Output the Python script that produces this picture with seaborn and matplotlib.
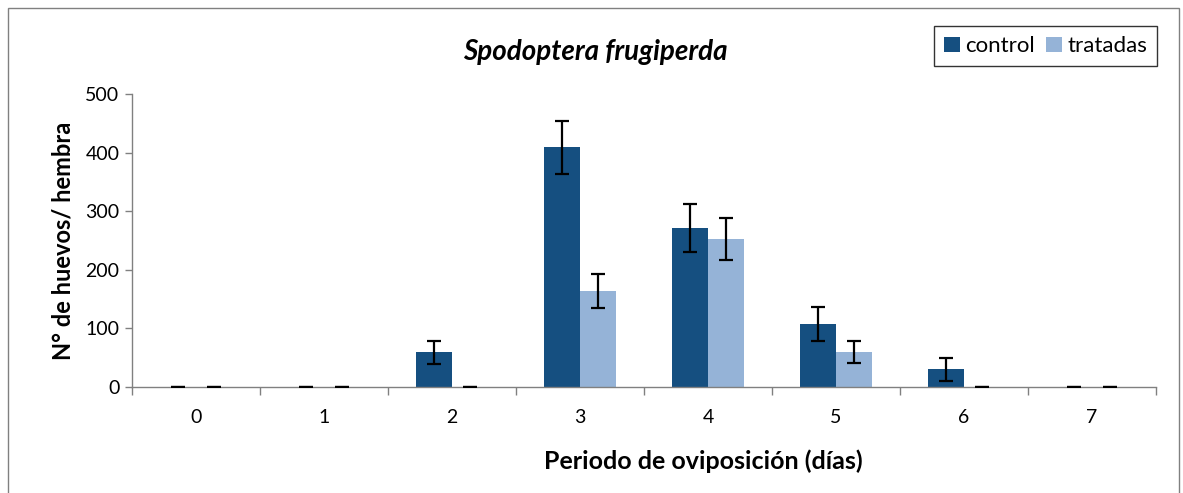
"""Spodoptera frugiperda - eggs per female by oviposition day."""
import numpy as np
import pandas as pd
import matplotlib
matplotlib.use("Agg")
import matplotlib.pyplot as plt
from matplotlib.patches import Rectangle
from matplotlib.ticker import FixedLocator, NullFormatter
import seaborn as sns

# data
days = ["0", "1", "2", "3", "4", "5", "6", "7"]
control = [0, 0, 59, 409, 271, 107, 30, 0]
control_err = [0, 0, 20, 46, 41, 29, 20, 0]
tratadas = [0, 0, 0, 164, 252, 60, 0, 0]
tratadas_err = [0, 0, 0, 29, 36, 19, 0, 0]
groups = ["control", "tratadas"]
colors = ["#154F80", "#95B3D7"]

sns.set_theme(style="white", rc={"text.color": "black",
                                 "axes.labelcolor": "black",
                                 "xtick.color": "black",
                                 "ytick.color": "black"})
plt.rcParams["font.family"] = ["Lato", "DejaVu Sans"]

df = pd.DataFrame({
    "day": days * 2,
    "value": control + tratadas,
    "err": control_err + tratadas_err,
    "group": [groups[0]] * len(days) + [groups[1]] * len(days),
})

fig = plt.figure(figsize=(11.83, 4.93), dpi=100)
ax = fig.add_axes([0.1116, 0.215, 0.8655, 0.594])

sns.barplot(data=df, x="day", y="value", hue="group", hue_order=groups,
            palette=colors, width=0.56, errorbar=None, saturation=1,
            linewidth=0, ax=ax)

# error bars placed on the drawn bars
for cont, g in zip(ax.containers, groups):
    sub = df[df["group"] == g]
    xs = [p.get_x() + p.get_width() / 2 for p in cont.patches]
    ax.errorbar(xs, sub["value"], yerr=sub["err"], fmt="none",
                ecolor="black", elinewidth=1.6, capsize=5, capthick=1.6,
                zorder=5)

ax.set_xlim(-0.5, len(days) - 0.5)
ax.set_ylim(0, 500)
ax.set_yticks([0, 100, 200, 300, 400, 500])
ax.tick_params(axis="y", labelsize=14, length=5, width=1, color="#808080",
               left=True, direction="out", pad=4, labelcolor="black")
ax.tick_params(axis="x", which="major", length=0, labelsize=14, pad=16,
               labelcolor="black")
ax.xaxis.set_minor_locator(FixedLocator(np.arange(-0.5, len(days), 1.0)))
ax.xaxis.set_minor_formatter(NullFormatter())
ax.tick_params(axis="x", which="minor", length=6, width=1, color="#808080",
               bottom=True, direction="out")

for side in ["top", "right"]:
    ax.spines[side].set_visible(False)
for side in ["left", "bottom"]:
    ax.spines[side].set_color("#808080")
    ax.spines[side].set_linewidth(1)

ax.set_ylabel("N° de huevos/ hembra", fontsize=17, fontweight="bold",
              labelpad=8)
ax.set_xlabel("Periodo de oviposición (días)", fontsize=18, fontweight="bold",
              labelpad=17)
ax.xaxis.label.set_x(0.558)

fig.text(595 / 1183, 1 - 52 / 493, "Spodoptera frugiperda", ha="center",
         va="center", fontsize=20, fontweight="bold", style="italic")

leg = ax.legend(loc="upper right", bbox_to_anchor=(1.001, 1.232), ncol=2,
                frameon=True, fancybox=False, fontsize=16,
                handlelength=0.7, handleheight=0.7, handletextpad=0.25,
                columnspacing=0.5, borderpad=0.45, borderaxespad=0,
                labelcolor="black")
leg.get_frame().set_edgecolor("black")
leg.get_frame().set_linewidth(1)

# outer chart border
fig.patches.append(Rectangle((8 / 1183, -0.05), 1 - 12 / 1183, 1.05 - 8 / 493,
                             transform=fig.transFigure, fill=False,
                             edgecolor="#808080", linewidth=1))

fig.savefig("out.png", dpi=100)
